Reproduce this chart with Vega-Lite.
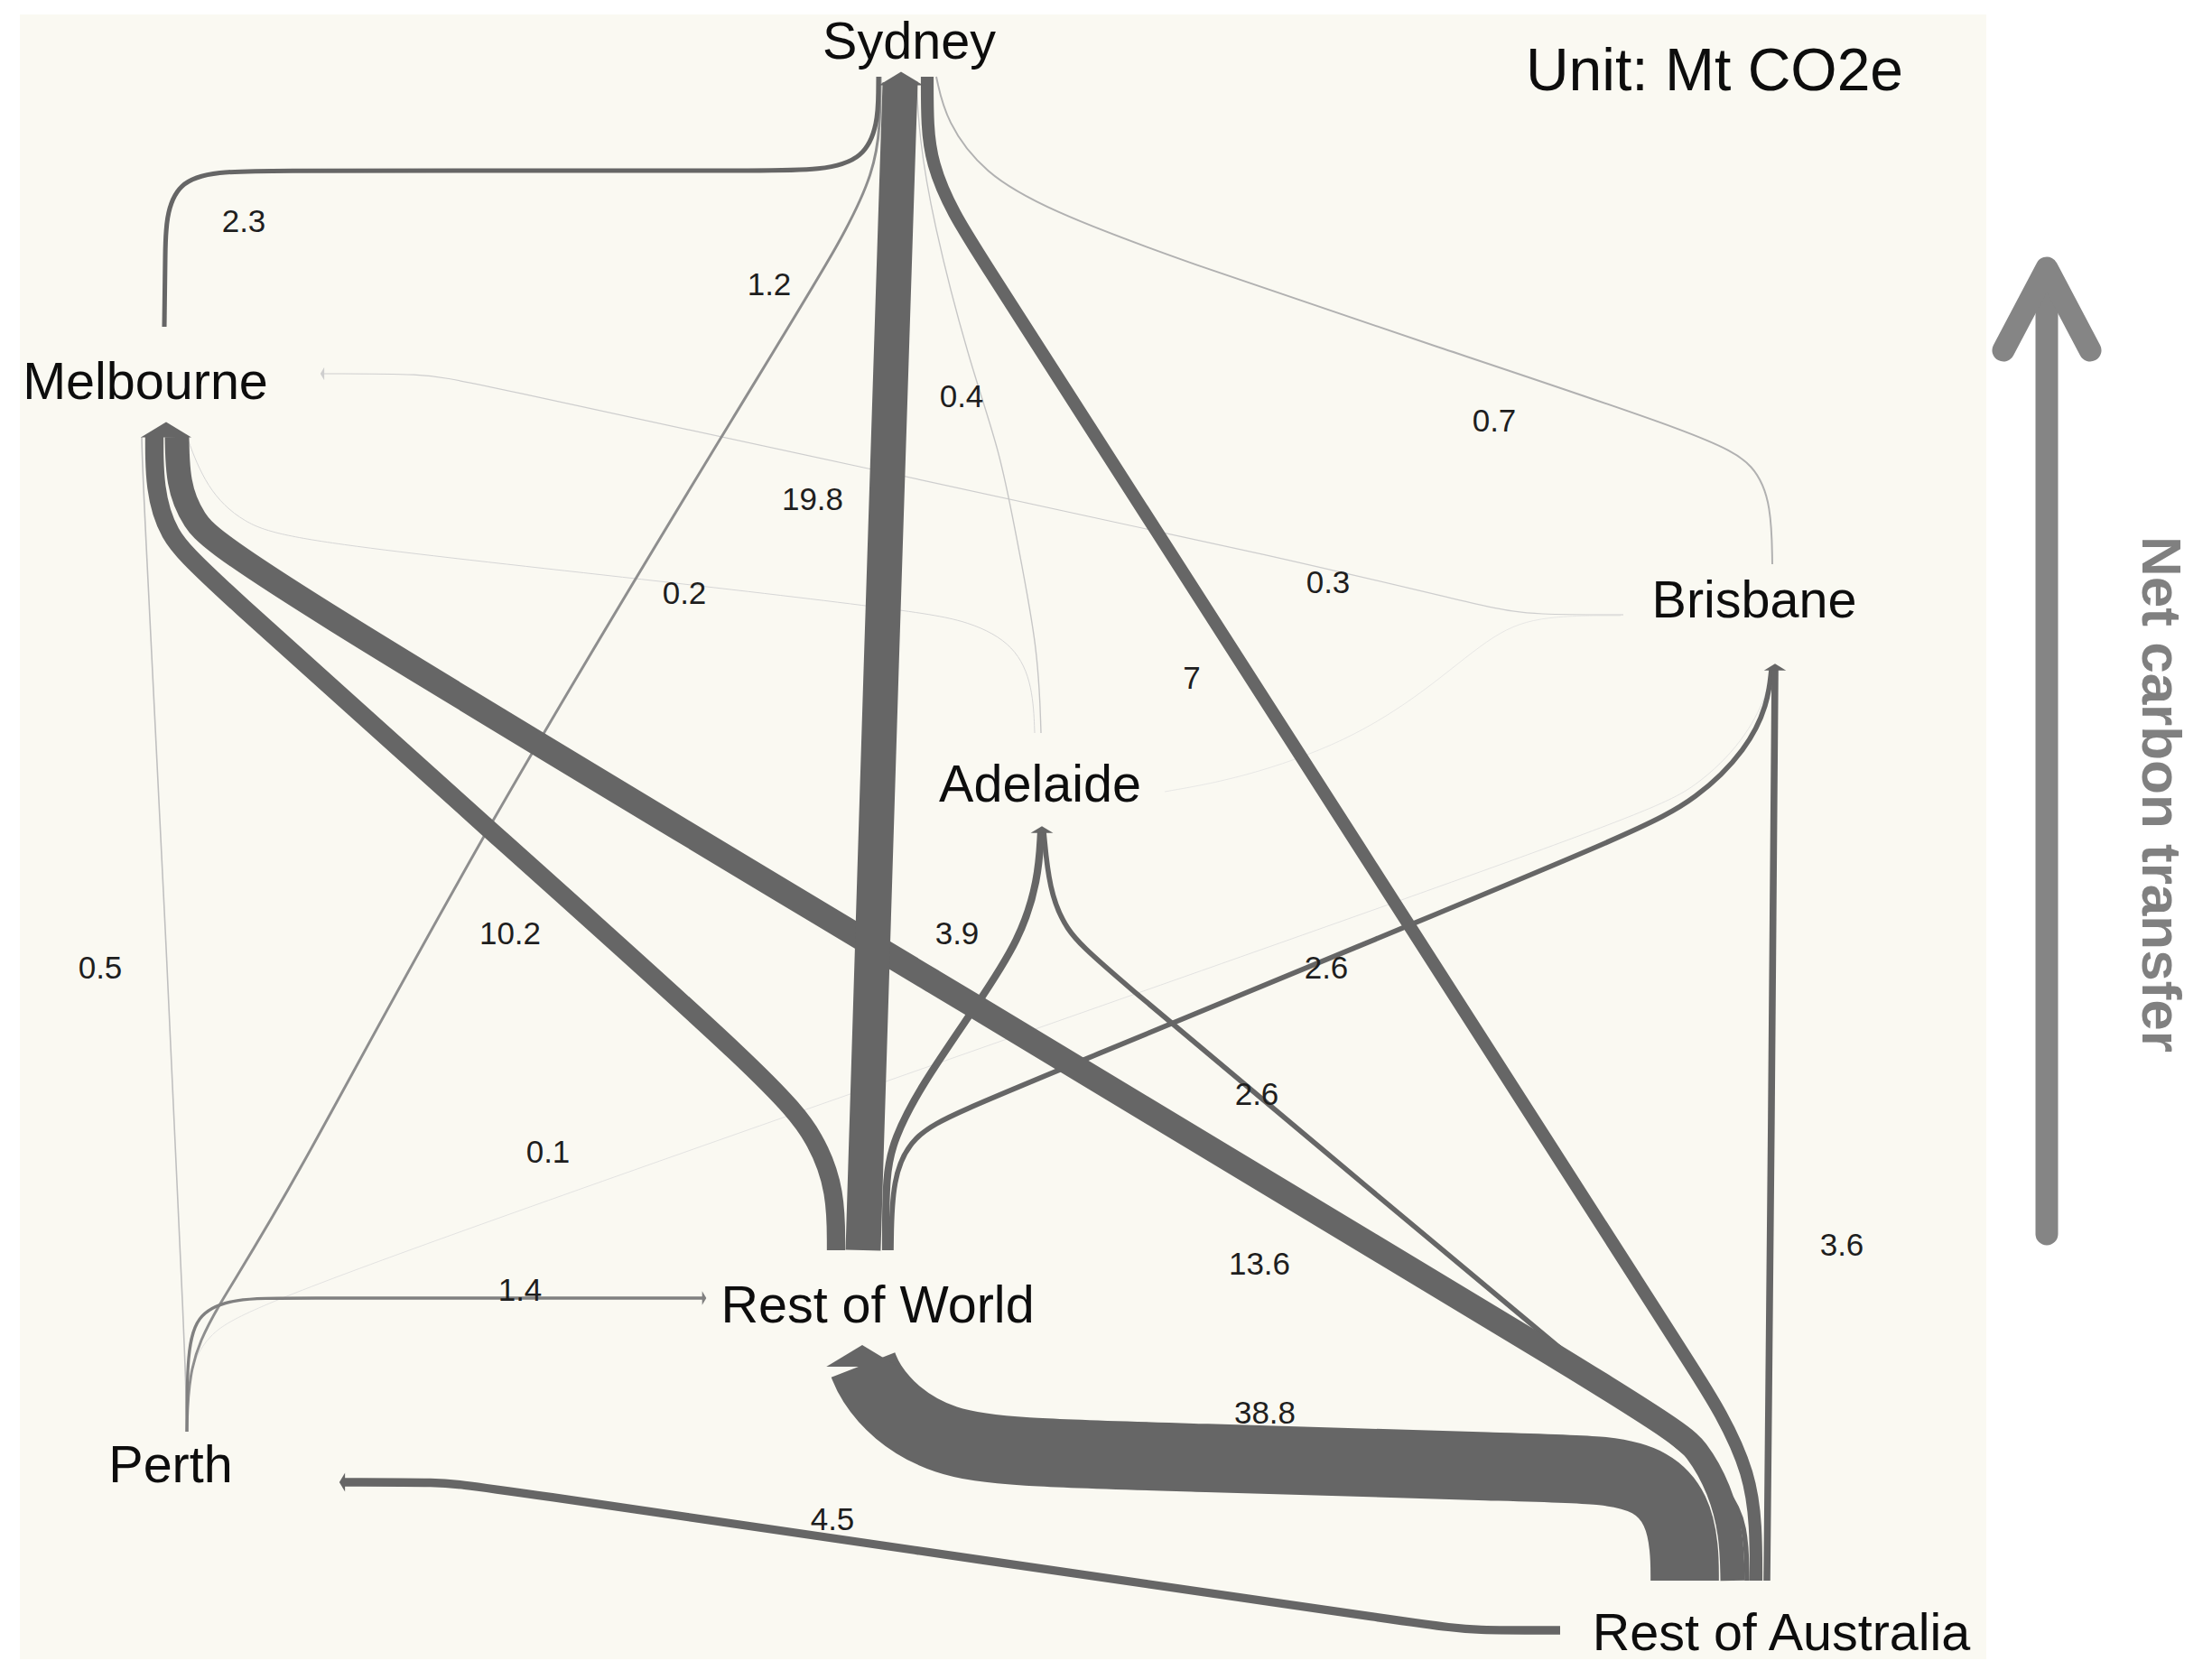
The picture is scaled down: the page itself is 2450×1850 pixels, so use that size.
{
  "$schema": "https://vega.github.io/schema/vega-lite/v6.json",
  "width": 2450,
  "height": 1850,
  "autosize": {"type": "fit", "contains": "padding"},
  "padding": 0,
  "background": "#ffffff",
  "config": {"view": {"stroke": null}, "font": "Liberation Sans"},
  "datasets": {
    "panel": [{"x0": 22, "x1": 2200, "y0": 16, "y1": 1838}],
    "links": [
      {"link": "Adelaide-Brisbane", "value": 0.05, "i": 0, "x": 1795, "y": 682},
      {"link": "Adelaide-Brisbane", "value": 0.05, "i": 1, "x": 1700, "y": 682},
      {"link": "Adelaide-Brisbane", "value": 0.05, "i": 2, "x": 1650, "y": 705},
      {"link": "Adelaide-Brisbane", "value": 0.05, "i": 3, "x": 1580, "y": 765},
      {"link": "Adelaide-Brisbane", "value": 0.05, "i": 4, "x": 1492, "y": 822},
      {"link": "Adelaide-Brisbane", "value": 0.05, "i": 5, "x": 1376, "y": 862},
      {"link": "Adelaide-Brisbane", "value": 0.05, "i": 6, "x": 1290, "y": 877},

      {"link": "Perth-Brisbane", "value": 0.1, "i": 0, "x": 207, "y": 1586},
      {"link": "Perth-Brisbane", "value": 0.1, "i": 1, "x": 207, "y": 1530},
      {"link": "Perth-Brisbane", "value": 0.1, "i": 2, "x": 225, "y": 1478},
      {"link": "Perth-Brisbane", "value": 0.1, "i": 3, "x": 297, "y": 1438},
      {"link": "Perth-Brisbane", "value": 0.1, "i": 4, "x": 1050, "y": 1174},
      {"link": "Perth-Brisbane", "value": 0.1, "i": 5, "x": 1813, "y": 906},
      {"link": "Perth-Brisbane", "value": 0.1, "i": 6, "x": 1880, "y": 872},
      {"link": "Perth-Brisbane", "value": 0.1, "i": 7, "x": 1932, "y": 820},
      {"link": "Perth-Brisbane", "value": 0.1, "i": 8, "x": 1957, "y": 770},
      {"link": "Perth-Brisbane", "value": 0.1, "i": 9, "x": 1962, "y": 742},

      {"link": "Adelaide-Melbourne", "value": 0.2, "i": 0, "x": 1146, "y": 812},
      {"link": "Adelaide-Melbourne", "value": 0.2, "i": 1, "x": 1144, "y": 760},
      {"link": "Adelaide-Melbourne", "value": 0.2, "i": 2, "x": 1125, "y": 715},
      {"link": "Adelaide-Melbourne", "value": 0.2, "i": 3, "x": 1075, "y": 688},
      {"link": "Adelaide-Melbourne", "value": 0.2, "i": 4, "x": 1006, "y": 676},
      {"link": "Adelaide-Melbourne", "value": 0.2, "i": 5, "x": 700, "y": 640},
      {"link": "Adelaide-Melbourne", "value": 0.2, "i": 6, "x": 330, "y": 600},
      {"link": "Adelaide-Melbourne", "value": 0.2, "i": 7, "x": 268, "y": 580},
      {"link": "Adelaide-Melbourne", "value": 0.2, "i": 8, "x": 228, "y": 540},
      {"link": "Adelaide-Melbourne", "value": 0.2, "i": 9, "x": 207, "y": 484},

      {"link": "Brisbane-Melbourne", "value": 0.3, "i": 0, "x": 1798, "y": 681},
      {"link": "Brisbane-Melbourne", "value": 0.3, "i": 1, "x": 1700, "y": 681},
      {"link": "Brisbane-Melbourne", "value": 0.3, "i": 2, "x": 1655, "y": 675},
      {"link": "Brisbane-Melbourne", "value": 0.3, "i": 3, "x": 1446, "y": 623},
      {"link": "Brisbane-Melbourne", "value": 0.3, "i": 4, "x": 960, "y": 519},
      {"link": "Brisbane-Melbourne", "value": 0.3, "i": 5, "x": 510, "y": 421},
      {"link": "Brisbane-Melbourne", "value": 0.3, "i": 6, "x": 470, "y": 414},
      {"link": "Brisbane-Melbourne", "value": 0.3, "i": 7, "x": 359, "y": 414},

      {"link": "Adelaide-Sydney", "value": 0.4, "i": 0, "x": 1153, "y": 812},
      {"link": "Adelaide-Sydney", "value": 0.4, "i": 1, "x": 1150, "y": 720},
      {"link": "Adelaide-Sydney", "value": 0.4, "i": 2, "x": 1127, "y": 602},
      {"link": "Adelaide-Sydney", "value": 0.4, "i": 3, "x": 1108, "y": 500},
      {"link": "Adelaide-Sydney", "value": 0.4, "i": 4, "x": 1073, "y": 400},
      {"link": "Adelaide-Sydney", "value": 0.4, "i": 5, "x": 1032, "y": 240},
      {"link": "Adelaide-Sydney", "value": 0.4, "i": 6, "x": 1018, "y": 150},
      {"link": "Adelaide-Sydney", "value": 0.4, "i": 7, "x": 1015, "y": 90},

      {"link": "Perth-Melbourne", "value": 0.5, "i": 0, "x": 207, "y": 1586},
      {"link": "Perth-Melbourne", "value": 0.5, "i": 1, "x": 206, "y": 1520},
      {"link": "Perth-Melbourne", "value": 0.5, "i": 2, "x": 182, "y": 1000},
      {"link": "Perth-Melbourne", "value": 0.5, "i": 3, "x": 158, "y": 530},
      {"link": "Perth-Melbourne", "value": 0.5, "i": 4, "x": 157, "y": 484},

      {"link": "Brisbane-Sydney", "value": 0.7, "i": 0, "x": 1963, "y": 625},
      {"link": "Brisbane-Sydney", "value": 0.7, "i": 1, "x": 1962, "y": 560},
      {"link": "Brisbane-Sydney", "value": 0.7, "i": 2, "x": 1945, "y": 515},
      {"link": "Brisbane-Sydney", "value": 0.7, "i": 3, "x": 1895, "y": 485},
      {"link": "Brisbane-Sydney", "value": 0.7, "i": 4, "x": 1600, "y": 387},
      {"link": "Brisbane-Sydney", "value": 0.7, "i": 5, "x": 1300, "y": 286},
      {"link": "Brisbane-Sydney", "value": 0.7, "i": 6, "x": 1160, "y": 232},
      {"link": "Brisbane-Sydney", "value": 0.7, "i": 7, "x": 1090, "y": 192},
      {"link": "Brisbane-Sydney", "value": 0.7, "i": 8, "x": 1048, "y": 135},
      {"link": "Brisbane-Sydney", "value": 0.7, "i": 9, "x": 1037, "y": 85},

      {"link": "Perth-Sydney", "value": 1.2, "i": 0, "x": 207, "y": 1586},
      {"link": "Perth-Sydney", "value": 1.2, "i": 1, "x": 209, "y": 1515},
      {"link": "Perth-Sydney", "value": 1.2, "i": 2, "x": 234, "y": 1456},
      {"link": "Perth-Sydney", "value": 1.2, "i": 3, "x": 312, "y": 1338},
      {"link": "Perth-Sydney", "value": 1.2, "i": 4, "x": 531, "y": 925},
      {"link": "Perth-Sydney", "value": 1.2, "i": 5, "x": 850, "y": 400},
      {"link": "Perth-Sydney", "value": 1.2, "i": 6, "x": 935, "y": 262},
      {"link": "Perth-Sydney", "value": 1.2, "i": 7, "x": 968, "y": 190},
      {"link": "Perth-Sydney", "value": 1.2, "i": 8, "x": 975, "y": 140},
      {"link": "Perth-Sydney", "value": 1.2, "i": 9, "x": 975, "y": 85},

      {"link": "Perth-Rest of World", "value": 1.4, "i": 0, "x": 207, "y": 1586},
      {"link": "Perth-Rest of World", "value": 1.4, "i": 1, "x": 207, "y": 1510},
      {"link": "Perth-Rest of World", "value": 1.4, "i": 2, "x": 215, "y": 1455},
      {"link": "Perth-Rest of World", "value": 1.4, "i": 3, "x": 260, "y": 1438},
      {"link": "Perth-Rest of World", "value": 1.4, "i": 4, "x": 320, "y": 1438},
      {"link": "Perth-Rest of World", "value": 1.4, "i": 5, "x": 560, "y": 1438},
      {"link": "Perth-Rest of World", "value": 1.4, "i": 6, "x": 778, "y": 1438},

      {"link": "Melbourne-Sydney", "value": 2.3, "i": 0, "x": 182, "y": 362},
      {"link": "Melbourne-Sydney", "value": 2.3, "i": 1, "x": 183, "y": 290},
      {"link": "Melbourne-Sydney", "value": 2.3, "i": 2, "x": 184, "y": 190},
      {"link": "Melbourne-Sydney", "value": 2.3, "i": 3, "x": 290, "y": 189},
      {"link": "Melbourne-Sydney", "value": 2.3, "i": 4, "x": 600, "y": 189},
      {"link": "Melbourne-Sydney", "value": 2.3, "i": 5, "x": 850, "y": 189},
      {"link": "Melbourne-Sydney", "value": 2.3, "i": 6, "x": 972, "y": 189},
      {"link": "Melbourne-Sydney", "value": 2.3, "i": 7, "x": 973, "y": 85},

      {"link": "Rest of World-Brisbane", "value": 2.6, "i": 0, "x": 987, "y": 1385},
      {"link": "Rest of World-Brisbane", "value": 2.6, "i": 1, "x": 988, "y": 1305},
      {"link": "Rest of World-Brisbane", "value": 2.6, "i": 2, "x": 1010, "y": 1258},
      {"link": "Rest of World-Brisbane", "value": 2.6, "i": 3, "x": 1060, "y": 1232},
      {"link": "Rest of World-Brisbane", "value": 2.6, "i": 4, "x": 1191, "y": 1178},
      {"link": "Rest of World-Brisbane", "value": 2.6, "i": 5, "x": 1500, "y": 1050},
      {"link": "Rest of World-Brisbane", "value": 2.6, "i": 6, "x": 1813, "y": 921},
      {"link": "Rest of World-Brisbane", "value": 2.6, "i": 7, "x": 1880, "y": 885},
      {"link": "Rest of World-Brisbane", "value": 2.6, "i": 8, "x": 1935, "y": 830},
      {"link": "Rest of World-Brisbane", "value": 2.6, "i": 9, "x": 1958, "y": 780},
      {"link": "Rest of World-Brisbane", "value": 2.6, "i": 10, "x": 1962, "y": 742},

      {"link": "Rest of Australia-Adelaide", "value": 2.6, "i": 0, "x": 1935, "y": 1751},
      {"link": "Rest of Australia-Adelaide", "value": 2.6, "i": 1, "x": 1934, "y": 1690},
      {"link": "Rest of Australia-Adelaide", "value": 2.6, "i": 2, "x": 1915, "y": 1650},
      {"link": "Rest of Australia-Adelaide", "value": 2.6, "i": 3, "x": 1870, "y": 1612},
      {"link": "Rest of Australia-Adelaide", "value": 2.6, "i": 4, "x": 1500, "y": 1303},
      {"link": "Rest of Australia-Adelaide", "value": 2.6, "i": 5, "x": 1215, "y": 1065},
      {"link": "Rest of Australia-Adelaide", "value": 2.6, "i": 6, "x": 1180, "y": 1030},
      {"link": "Rest of Australia-Adelaide", "value": 2.6, "i": 7, "x": 1162, "y": 985},
      {"link": "Rest of Australia-Adelaide", "value": 2.6, "i": 8, "x": 1156, "y": 921},

      {"link": "Rest of Australia-Brisbane", "value": 3.6, "i": 0, "x": 1957, "y": 1751},
      {"link": "Rest of Australia-Brisbane", "value": 3.6, "i": 1, "x": 1962, "y": 1250},
      {"link": "Rest of Australia-Brisbane", "value": 3.6, "i": 2, "x": 1966, "y": 742},

      {"link": "Rest of World-Adelaide", "value": 3.9, "i": 0, "x": 981, "y": 1385},
      {"link": "Rest of World-Adelaide", "value": 3.9, "i": 1, "x": 981, "y": 1300},
      {"link": "Rest of World-Adelaide", "value": 3.9, "i": 2, "x": 990, "y": 1262},
      {"link": "Rest of World-Adelaide", "value": 3.9, "i": 3, "x": 1019, "y": 1204},
      {"link": "Rest of World-Adelaide", "value": 3.9, "i": 4, "x": 1083, "y": 1112},
      {"link": "Rest of World-Adelaide", "value": 3.9, "i": 5, "x": 1130, "y": 1040},
      {"link": "Rest of World-Adelaide", "value": 3.9, "i": 6, "x": 1150, "y": 975},
      {"link": "Rest of World-Adelaide", "value": 3.9, "i": 7, "x": 1153, "y": 921},

      {"link": "Rest of Australia-Perth", "value": 4.5, "i": 0, "x": 1728, "y": 1806},
      {"link": "Rest of Australia-Perth", "value": 4.5, "i": 1, "x": 1630, "y": 1806},
      {"link": "Rest of Australia-Perth", "value": 4.5, "i": 2, "x": 1595, "y": 1802},
      {"link": "Rest of Australia-Perth", "value": 4.5, "i": 3, "x": 1100, "y": 1730},
      {"link": "Rest of Australia-Perth", "value": 4.5, "i": 4, "x": 520, "y": 1645},
      {"link": "Rest of Australia-Perth", "value": 4.5, "i": 5, "x": 490, "y": 1642},
      {"link": "Rest of Australia-Perth", "value": 4.5, "i": 6, "x": 381, "y": 1642},

      {"link": "Rest of Australia-Sydney", "value": 7, "i": 0, "x": 1945, "y": 1751},
      {"link": "Rest of Australia-Sydney", "value": 7, "i": 1, "x": 1945, "y": 1690},
      {"link": "Rest of Australia-Sydney", "value": 7, "i": 2, "x": 1938, "y": 1633},
      {"link": "Rest of Australia-Sydney", "value": 7, "i": 3, "x": 1908, "y": 1567},
      {"link": "Rest of Australia-Sydney", "value": 7, "i": 4, "x": 1865, "y": 1500},
      {"link": "Rest of Australia-Sydney", "value": 7, "i": 5, "x": 1500, "y": 930},
      {"link": "Rest of Australia-Sydney", "value": 7, "i": 6, "x": 1160, "y": 400},
      {"link": "Rest of Australia-Sydney", "value": 7, "i": 7, "x": 1100, "y": 306},
      {"link": "Rest of Australia-Sydney", "value": 7, "i": 8, "x": 1053, "y": 233},
      {"link": "Rest of Australia-Sydney", "value": 7, "i": 9, "x": 1032, "y": 180},
      {"link": "Rest of Australia-Sydney", "value": 7, "i": 10, "x": 1027, "y": 140},
      {"link": "Rest of Australia-Sydney", "value": 7, "i": 11, "x": 1027, "y": 85},

      {"link": "Rest of World-Melbourne", "value": 10.2, "i": 0, "x": 926, "y": 1385},
      {"link": "Rest of World-Melbourne", "value": 10.2, "i": 1, "x": 926, "y": 1320},
      {"link": "Rest of World-Melbourne", "value": 10.2, "i": 2, "x": 905, "y": 1262},
      {"link": "Rest of World-Melbourne", "value": 10.2, "i": 3, "x": 859, "y": 1202},
      {"link": "Rest of World-Melbourne", "value": 10.2, "i": 4, "x": 541, "y": 918},
      {"link": "Rest of World-Melbourne", "value": 10.2, "i": 5, "x": 223, "y": 633},
      {"link": "Rest of World-Melbourne", "value": 10.2, "i": 6, "x": 185, "y": 592},
      {"link": "Rest of World-Melbourne", "value": 10.2, "i": 7, "x": 171, "y": 540},
      {"link": "Rest of World-Melbourne", "value": 10.2, "i": 8, "x": 171, "y": 484},

      {"link": "Rest of Australia-Melbourne", "value": 13.6, "i": 0, "x": 1919, "y": 1751},
      {"link": "Rest of Australia-Melbourne", "value": 13.6, "i": 1, "x": 1918, "y": 1700},
      {"link": "Rest of Australia-Melbourne", "value": 13.6, "i": 2, "x": 1905, "y": 1650},
      {"link": "Rest of Australia-Melbourne", "value": 13.6, "i": 3, "x": 1880, "y": 1605},
      {"link": "Rest of Australia-Melbourne", "value": 13.6, "i": 4, "x": 1850, "y": 1577},
      {"link": "Rest of Australia-Melbourne", "value": 13.6, "i": 5, "x": 1025, "y": 1082},
      {"link": "Rest of Australia-Melbourne", "value": 13.6, "i": 6, "x": 250, "y": 617},
      {"link": "Rest of Australia-Melbourne", "value": 13.6, "i": 7, "x": 212, "y": 575},
      {"link": "Rest of Australia-Melbourne", "value": 13.6, "i": 8, "x": 197, "y": 535},
      {"link": "Rest of Australia-Melbourne", "value": 13.6, "i": 9, "x": 196, "y": 484},

      {"link": "Rest of World-Sydney", "value": 19.8, "i": 0, "x": 956, "y": 1385},
      {"link": "Rest of World-Sydney", "value": 19.8, "i": 1, "x": 976, "y": 735},
      {"link": "Rest of World-Sydney", "value": 19.8, "i": 2, "x": 997, "y": 92},

      {"link": "Rest of Australia-Rest of World", "value": 38.8, "i": 0, "x": 1866, "y": 1751},
      {"link": "Rest of Australia-Rest of World", "value": 38.8, "i": 1, "x": 1866, "y": 1715},
      {"link": "Rest of Australia-Rest of World", "value": 38.8, "i": 2, "x": 1858, "y": 1672},
      {"link": "Rest of Australia-Rest of World", "value": 38.8, "i": 3, "x": 1830, "y": 1640},
      {"link": "Rest of Australia-Rest of World", "value": 38.8, "i": 4, "x": 1780, "y": 1628},
      {"link": "Rest of Australia-Rest of World", "value": 38.8, "i": 5, "x": 1700, "y": 1626},
      {"link": "Rest of Australia-Rest of World", "value": 38.8, "i": 6, "x": 1300, "y": 1614},
      {"link": "Rest of Australia-Rest of World", "value": 38.8, "i": 7, "x": 1121, "y": 1609},
      {"link": "Rest of Australia-Rest of World", "value": 38.8, "i": 8, "x": 1044, "y": 1598},
      {"link": "Rest of Australia-Rest of World", "value": 38.8, "i": 9, "x": 990, "y": 1565},
      {"link": "Rest of Australia-Rest of World", "value": 38.8, "i": 10, "x": 963, "y": 1530},
      {"link": "Rest of Australia-Rest of World", "value": 38.8, "i": 11, "x": 956, "y": 1512}
    ],
    "arrows": [
      {"target": "Sydney", "dir": "up", "value": 19.8, "x": 998, "y": 87},
      {"target": "Melbourne", "dir": "up", "value": 23.8, "x": 184, "y": 476},
      {"target": "Melbourne", "dir": "left", "value": 0.3, "x": 357, "y": 414},
      {"target": "Adelaide", "dir": "up", "value": 6.5, "x": 1154, "y": 919},
      {"target": "Brisbane", "dir": "up", "value": 6.3, "x": 1966, "y": 739},
      {"target": "Rest of World", "dir": "right", "value": 1.4, "x": 780, "y": 1438},
      {"target": "Rest of World", "dir": "up", "value": 38.8, "x": 955, "y": 1502},
      {"target": "Perth", "dir": "left", "value": 4.5, "x": 379, "y": 1642}
    ],
    "indicator": [
      {"part": "shaft", "i": 0, "x": 2267, "y": 1367},
      {"part": "shaft", "i": 1, "x": 2267, "y": 300},
      {"part": "head", "i": 0, "x": 2219, "y": 388},
      {"part": "head", "i": 1, "x": 2267, "y": 297},
      {"part": "head", "i": 2, "x": 2315, "y": 388}
    ],
    "nodes": [
      {"name": "Sydney", "x": 1007, "y": 65},
      {"name": "Melbourne", "x": 161, "y": 442},
      {"name": "Brisbane", "x": 1943, "y": 684},
      {"name": "Adelaide", "x": 1152, "y": 888},
      {"name": "Rest of World", "x": 972, "y": 1465},
      {"name": "Perth", "x": 189, "y": 1642},
      {"name": "Rest of Australia", "x": 1973, "y": 1828}
    ],
    "flowlabels": [
      {"label": "2.3", "x": 270, "y": 257},
      {"label": "1.2", "x": 852, "y": 327},
      {"label": "0.4", "x": 1065, "y": 451},
      {"label": "0.7", "x": 1655, "y": 478},
      {"label": "19.8", "x": 900, "y": 565},
      {"label": "0.2", "x": 758, "y": 669},
      {"label": "0.3", "x": 1471, "y": 657},
      {"label": "7", "x": 1320, "y": 763},
      {"label": "0.5", "x": 111, "y": 1084},
      {"label": "10.2", "x": 565, "y": 1046},
      {"label": "3.9", "x": 1060, "y": 1046},
      {"label": "2.6", "x": 1469, "y": 1084},
      {"label": "2.6", "x": 1392, "y": 1224},
      {"label": "0.1", "x": 607, "y": 1288},
      {"label": "1.4", "x": 576, "y": 1441},
      {"label": "13.6", "x": 1395, "y": 1412},
      {"label": "3.6", "x": 2040, "y": 1391},
      {"label": "38.8", "x": 1401, "y": 1577},
      {"label": "4.5", "x": 922, "y": 1695}
    ]
  },
  "layer": [
    {
      "data": {"name": "panel"},
      "mark": {"type": "rect", "fill": "#faf9f2"},
      "encoding": {
        "x": {"field": "x0", "type": "quantitative", "scale": {"domain": [0, 2450], "nice": false, "zero": false}, "axis": null},
        "x2": {"field": "x1"},
        "y": {"field": "y0", "type": "quantitative", "scale": {"domain": [0, 1850], "nice": false, "zero": false, "reverse": true}, "axis": null},
        "y2": {"field": "y1"}
      }
    },
    {
      "data": {"name": "links"},
      "mark": {"type": "line", "interpolate": "basis", "strokeCap": "butt", "strokeJoin": "round"},
      "encoding": {
        "x": {"field": "x", "type": "quantitative", "scale": {"domain": [0, 2450], "nice": false, "zero": false}, "axis": null},
        "y": {"field": "y", "type": "quantitative", "scale": {"domain": [0, 1850], "nice": false, "zero": false, "reverse": true}, "axis": null},
        "detail": {"field": "link", "type": "nominal"},
        "order": {"field": "i", "type": "quantitative"},
        "strokeWidth": {"field": "value", "type": "quantitative", "scale": {"domain": [0, 40], "range": [0.6, 78]}, "legend": null},
        "color": {"field": "value", "type": "quantitative", "scale": {"type": "linear", "domain": [0, 1.8], "range": ["#e4e4e4", "#666666"], "clamp": true}, "legend": null}
      }
    },
    {
      "data": {"name": "arrows"},
      "mark": {"type": "point", "filled": true, "opacity": 1, "strokeWidth": 0},
      "encoding": {
        "x": {"field": "x", "type": "quantitative", "scale": {"domain": [0, 2450], "nice": false, "zero": false}, "axis": null},
        "y": {"field": "y", "type": "quantitative", "scale": {"domain": [0, 1850], "nice": false, "zero": false, "reverse": true}, "axis": null},
        "shape": {"field": "dir", "type": "nominal", "scale": {"domain": ["up", "left", "right"], "range": ["M0,-0.3L1,0.3L-1,0.3Z", "M-0.3,0L0.3,-1L0.3,1Z", "M0.3,0L-0.3,-1L-0.3,1Z"]}, "legend": null},
        "size": {"field": "value", "type": "quantitative", "scale": {"type": "pow", "exponent": 1.5, "domain": [0, 40], "range": [200, 6600]}, "legend": null},
        "color": {"field": "value", "type": "quantitative", "scale": {"type": "linear", "domain": [0, 1.8], "range": ["#e4e4e4", "#666666"], "clamp": true}, "legend": null}
      }
    },
    {
      "data": {"name": "indicator"},
      "mark": {"type": "line", "strokeWidth": 25, "strokeCap": "round", "strokeJoin": "round", "color": "#858585"},
      "encoding": {
        "x": {"field": "x", "type": "quantitative", "scale": {"domain": [0, 2450], "nice": false, "zero": false}, "axis": null},
        "y": {"field": "y", "type": "quantitative", "scale": {"domain": [0, 1850], "nice": false, "zero": false, "reverse": true}, "axis": null},
        "detail": {"field": "part", "type": "nominal"},
        "order": {"field": "i", "type": "quantitative"}
      }
    },
    {
      "data": {"name": "nodes"},
      "mark": {"type": "text", "fontSize": 57.5, "align": "center", "baseline": "alphabetic", "color": "#0d0d0d"},
      "encoding": {
        "x": {"field": "x", "type": "quantitative", "scale": {"domain": [0, 2450], "nice": false, "zero": false}, "axis": null},
        "y": {"field": "y", "type": "quantitative", "scale": {"domain": [0, 1850], "nice": false, "zero": false, "reverse": true}, "axis": null},
        "text": {"field": "name", "type": "nominal"}
      }
    },
    {
      "data": {"name": "flowlabels"},
      "mark": {"type": "text", "fontSize": 35, "align": "center", "baseline": "alphabetic", "color": "#1e1e1e"},
      "encoding": {
        "x": {"field": "x", "type": "quantitative", "scale": {"domain": [0, 2450], "nice": false, "zero": false}, "axis": null},
        "y": {"field": "y", "type": "quantitative", "scale": {"domain": [0, 1850], "nice": false, "zero": false, "reverse": true}, "axis": null},
        "text": {"field": "label", "type": "nominal"}
      }
    },
    {
      "data": {"values": [{"note": "Unit: Mt CO2e", "x": 1899, "y": 100}]},
      "mark": {"type": "text", "fontSize": 66, "align": "center", "baseline": "alphabetic", "color": "#0d0d0d"},
      "encoding": {
        "x": {"field": "x", "type": "quantitative", "scale": {"domain": [0, 2450], "nice": false, "zero": false}, "axis": null},
        "y": {"field": "y", "type": "quantitative", "scale": {"domain": [0, 1850], "nice": false, "zero": false, "reverse": true}, "axis": null},
        "text": {"field": "note", "type": "nominal"}
      }
    },
    {
      "data": {"values": [{"note": "Net carbon transfer", "x": 2392, "y": 880}]},
      "mark": {"type": "text", "fontSize": 62, "fontWeight": "bold", "angle": 90, "align": "center", "baseline": "middle", "color": "#808080"},
      "encoding": {
        "x": {"field": "x", "type": "quantitative", "scale": {"domain": [0, 2450], "nice": false, "zero": false}, "axis": null},
        "y": {"field": "y", "type": "quantitative", "scale": {"domain": [0, 1850], "nice": false, "zero": false, "reverse": true}, "axis": null},
        "text": {"field": "note", "type": "nominal"}
      }
    }
  ]
}
